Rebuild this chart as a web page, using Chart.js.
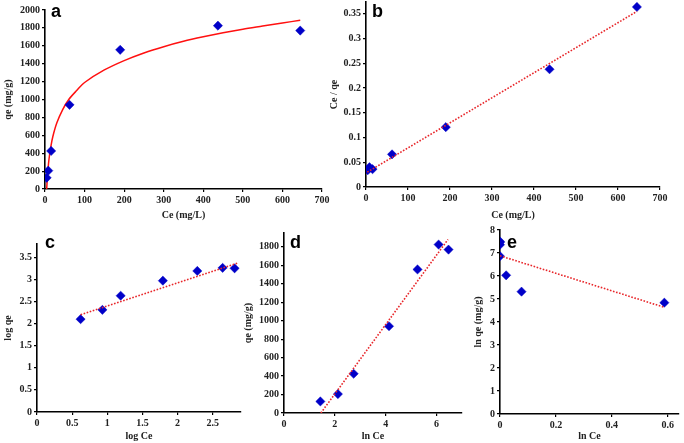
<!DOCTYPE html>
<html>
<head>
<meta charset="utf-8">
<script src="https://cdn.jsdelivr.net/npm/chart.js@4.4.0/dist/chart.umd.min.js"></script>
<style>
  body { margin: 0; background: #fff; width: 684px; height: 443px; position: relative; overflow: hidden; }
  canvas { position: absolute; }
  .tag { position: absolute; font: bold 18px "Liberation Sans", Arial, sans-serif; line-height: 18px; color: #000; }
</style>
</head>
<body>
<canvas id="ca" width="340" height="222" style="left:0;top:0"></canvas>
<canvas id="cb" width="358" height="228" style="left:326px;top:-6px"></canvas>
<canvas id="cc" width="246" height="221" style="left:0;top:222px"></canvas>
<canvas id="cd" width="230" height="221" style="left:240px;top:222px"></canvas>
<canvas id="ce" width="214" height="221" style="left:470px;top:222px"></canvas>
<div class="tag" style="left:51px;top:2px">a</div>
<div class="tag" style="left:372px;top:2px">b</div>
<div class="tag" style="left:45px;top:233px">c</div>
<div class="tag" style="left:290px;top:233px">d</div>
<div class="tag" style="left:507px;top:233px">e</div>
<script>
// experimental points
const ceVals = [4.2, 8.3, 15.5, 62, 190, 437, 645];
const qeVals = [125, 205, 425, 940, 1555, 1825, 1770];
const ceOverQe = [0.034, 0.040, 0.036, 0.066, 0.121, 0.238, 0.364];
const logCe = [0.62, 0.93, 1.19, 1.79, 2.28, 2.64, 2.81];
const logQe = [2.10, 2.31, 2.63, 2.97, 3.19, 3.26, 3.25];
const lnCe = [1.43, 2.12, 2.74, 4.13, 5.25, 6.08, 6.47];
const eX = [0, 0, 0, 0, 0.022, 0.077, 0.588];
const eY = [7.50, 7.47, 7.36, 6.86, 6.03, 5.32, 4.84];

// fitted curve (a) and trend lines (b-e)
const curveCe = [4.3, 6, 10, 15, 20, 30, 45, 60, 80, 100, 150, 200, 250, 300, 350, 400, 450, 500, 550, 600, 645];
const curveQe = [0, 130, 330, 480, 590, 740, 890, 1000, 1100, 1190, 1330, 1435, 1520, 1590, 1650, 1700, 1745, 1785, 1820, 1855, 1885];
const lineB = [[3, 0.030], [645, 0.355]];
const lineC = [[0.62, 2.20], [2.86, 3.37]];
const lineD = [[1.45, 0], [6.45, 1880]];
const lineE = [[0, 6.88], [0.585, 4.65]];

// tick labels
const ticksCe = [0, 100, 200, 300, 400, 500, 600, 700];
const ticksQeA = [0, 200, 400, 600, 800, 1000, 1200, 1400, 1600, 1800, 2000];
const ticksB = [0, 0.05, 0.1, 0.15, 0.2, 0.25, 0.3, 0.35];
const ticksCx = [0, 0.5, 1, 1.5, 2, 2.5];
const ticksCy = [0, 0.5, 1, 1.5, 2, 2.5, 3, 3.5];
const ticksDx = [0, 2, 4, 6];
const ticksDy = [0, 200, 400, 600, 800, 1000, 1200, 1400, 1600, 1800];
const ticksEx = [0, 0.2, 0.4, 0.6];
const ticksEy = [0, 1, 2, 3, 4, 5, 6, 7, 8];

const BLUE = '#0000c8';
const RED = '#e8262a';
const serif = '"Liberation Serif", "Times New Roman", serif';

const pts = (xs, ys) => xs.map((x, i) => ({ x: x, y: ys[i] }));

function markers(data) {
  return {
    type: 'scatter', data: data, showLine: false,
    pointStyle: 'rectRot', pointRadius: 4.6, backgroundColor: BLUE, borderColor: BLUE, borderWidth: 0.5
  };
}
function dotted(line) {
  return {
    type: 'scatter', data: line.map(p => ({ x: p[0], y: p[1] })), showLine: true,
    borderColor: RED, borderWidth: 1.6, borderDash: [1.6, 1.6], pointRadius: 0
  };
}

function axis(o, horizontal) {
  return {
    type: 'linear', min: o.min, max: o.max,
    afterBuildTicks: s => { s.ticks = o.ticks.map(v => ({ value: v })); },
    afterFit: s => { if (horizontal) s.height = o.size; else s.width = o.size; },
    border: { color: '#000', width: 1.6 },
    grid: { drawOnChartArea: false, drawTicks: true, tickLength: 3, color: '#000', lineWidth: 1.2 },
    ticks: { font: { family: serif, size: 10, weight: 'bold' }, color: '#222', padding: 2,
             callback: v => String(+v.toFixed(3)) },
    title: { display: true, text: o.title, font: { family: serif, size: 10, weight: 'bold' }, color: '#222',
             padding: { top: 2, bottom: 1 } }
  };
}

function panel(id, pad, xo, yo, datasets) {
  new Chart(document.getElementById(id), {
    type: 'scatter',
    data: { datasets: datasets },
    options: {
      responsive: false, animation: false,
      layout: { padding: pad },
      plugins: { legend: { display: false }, tooltip: { enabled: false } },
      scales: { x: axis(xo, true), y: axis(yo, false) }
    }
  });
}

// a
panel('ca', { left: 0, top: 10, right: 18, bottom: 0 },
  { min: 0, max: 700, ticks: ticksCe, size: 33, title: 'Ce (mg/L)' },
  { min: 0, max: 2000, ticks: ticksQeA, size: 45, title: 'qe (mg/g)' },
  [markers(pts(ceVals, qeVals)),
   { type: 'scatter', data: pts(curveCe, curveQe), showLine: true, borderColor: '#ff1010', borderWidth: 1.5,
     pointRadius: 0, tension: 0.3 }]);

// b
panel('cb', { left: 0, top: 7, right: 24, bottom: 0 },
  { min: 0, max: 700, ticks: ticksCe, size: 35, title: 'Ce (mg/L)' },
  { min: 0, max: 0.374, ticks: ticksB, size: 40, title: 'Ce / qe' },
  [dotted(lineB), markers(pts(ceVals, ceOverQe))]);

// c
panel('cc', { left: 0, top: 22, right: 5, bottom: 0 },
  { min: 0, max: 2.9, ticks: ticksCx, size: 31, title: 'log Ce' },
  { min: 0, max: 3.8, ticks: ticksCy, size: 37, title: 'log qe' },
  [dotted(lineC), markers(pts(logCe, logQe))]);

// d
panel('cd', { left: 0, top: 11, right: 8, bottom: 0 },
  { min: 0, max: 7, ticks: ticksDx, size: 30, title: 'ln Ce' },
  { min: 0, max: 1950, ticks: ticksDy, size: 44, title: 'qe (mg/g)' },
  [dotted(lineD), markers(pts(lnCe, qeVals))]);

// e
panel('ce', { left: 0, top: 6, right: 2, bottom: 0 },
  { min: 0, max: 0.64, ticks: ticksEx, size: 29, title: 'ln Ce' },
  { min: 0, max: 8, ticks: ticksEy, size: 30, title: 'ln qe (mg/g)' },
  [dotted(lineE), markers(pts(eX, eY))]);
</script>
</body>
</html>
